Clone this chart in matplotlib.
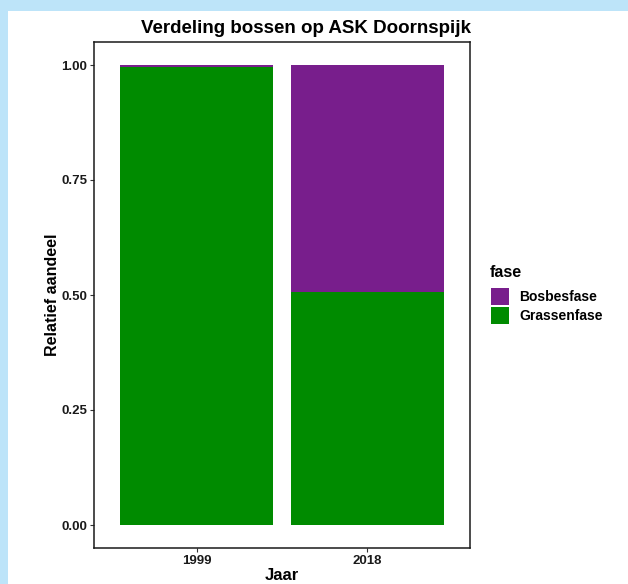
import matplotlib.pyplot as plt
from matplotlib.patches import Patch, Rectangle

plt.rcParams['font.family'] = ['Liberation Sans', 'DejaVu Sans']

# Data
jaren = ['1999', '2018']
fases = ['Bosbesfase', 'Grassenfase']
grassenfase = [0.996, 0.506]
bosbesfase = [0.004, 0.494]
kleuren = {'Bosbesfase': '#781e8c', 'Grassenfase': '#008b00'}

fig = plt.figure(figsize=(6.28, 5.84), dpi=100)
fig.patch.set_facecolor('#bde4f9')
# white panel (screenshot frame)
fig.patches.append(Rectangle((8 / 628, 0), 1, 1 - 11 / 584, transform=fig.transFigure,
                             facecolor='white', edgecolor='none', zorder=-10))

ax = fig.add_axes([94 / 628, 1 - 548 / 584, 376 / 628, 506 / 584])
ax.set_facecolor('white')

x = range(1, len(jaren) + 1)
ax.bar(x, grassenfase, width=0.9, color=kleuren['Grassenfase'])
ax.bar(x, bosbesfase, width=0.9, bottom=grassenfase, color=kleuren['Bosbesfase'])

ax.set_xlim(0.4, 2.6)
ax.set_ylim(-0.05, 1.05)
ax.set_xticks(list(x))
ax.set_xticklabels(jaren)
ax.set_yticks([0, 0.25, 0.5, 0.75, 1.0])
ax.set_yticklabels(['0.00', '0.25', '0.50', '0.75', '1.00'])
ax.tick_params(length=3, width=0.8, color='#333333', labelsize=9.5, labelcolor='#1a1a1a', pad=2)
for lbl in ax.get_xticklabels() + ax.get_yticklabels():
    lbl.set_fontweight('bold')
for s in ax.spines.values():
    s.set_linewidth(1.1)
    s.set_color('#1a1a1a')

ax.set_xlabel('Jaar', fontsize=12, fontweight='bold', labelpad=1)
ax.set_ylabel('Relatief aandeel', fontsize=11.5, fontweight='bold', labelpad=0.5)

# titel
fig.text(306 / 628, 1 - 33 / 584, 'Verdeling bossen op ASK Doornspijk', fontsize=13.5,
         fontweight='bold', ha='center', va='baseline')

# legenda
fig.text(490 / 628, 1 - 277 / 584, 'fase', fontsize=11.5, fontweight='bold',
         ha='left', va='baseline')
handles = [Patch(facecolor=kleuren[f], edgecolor='none', label=f) for f in fases]
leg = fig.legend(handles=handles, loc='upper left',
                 bbox_to_anchor=(491 / 628, 1 - 288 / 584), frameon=False,
                 prop={'weight': 'bold', 'size': 10}, handlelength=1.3, handleheight=1.56,
                 handletextpad=0.72, labelspacing=0.1, borderaxespad=0, borderpad=0)

fig.savefig('out.png', dpi=100)
